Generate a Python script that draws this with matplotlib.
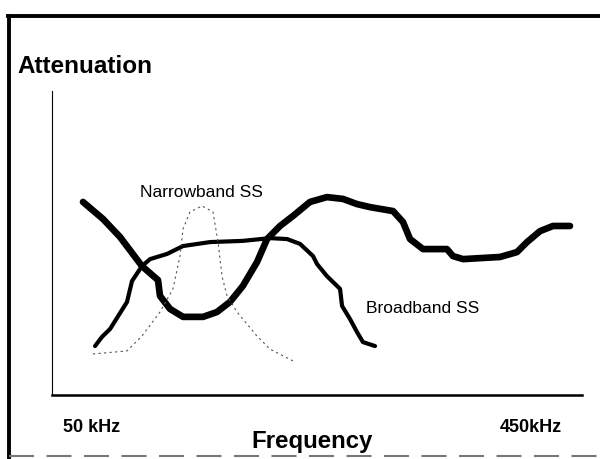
import matplotlib.pyplot as plt
from matplotlib.lines import Line2D

plt.rcParams['font.family'] = ['Liberation Sans', 'DejaVu Sans']

# frequency (kHz) and relative attenuation
thick_f = [73.4, 88.5, 101.3, 117.9, 130.0, 131.5, 139.1, 148.9, 164.0, 174.5, 184.3, 194.1,
           204.7, 212.3, 222.1, 231.9, 244.7, 257.5, 269.6, 280.2, 290.0, 307.4, 314.9, 320.2,
           330.0, 348.1, 352.6, 360.2, 388.1, 400.9, 408.5, 418.3, 428.1, 440.9]
thick_a = [63.5, 57.9, 52.0, 42.4, 37.8, 32.6, 28.3, 25.7, 25.7, 27.3, 30.6, 35.9,
           43.7, 51.3, 55.6, 58.9, 63.5, 65.1, 64.5, 62.8, 61.8, 60.5, 56.9, 51.3,
           48.0, 48.0, 45.7, 44.7, 45.4, 47.0, 50.3, 53.9, 55.6, 55.6]

broad_f = [82.5, 87.7, 93.8, 106.6, 110.4, 117.9, 124.0, 136.8, 148.9, 169.2, 194.1, 214.5,
           227.4, 237.2, 247.0, 250.0, 257.5, 267.4, 268.9, 274.9, 280.2, 284.7, 293.8]
broad_a = [16.1, 19.1, 21.7, 30.6, 37.5, 42.4, 44.7, 46.4, 49.0, 50.3, 50.7, 51.6,
           51.3, 49.7, 45.7, 43.1, 39.1, 34.9, 29.3, 25.0, 20.7, 17.4, 16.1]

narrow_f = [80.9, 106.6, 117.9, 131.5, 141.3, 146.6, 148.9, 154.1, 163.2, 171.5, 175.3, 178.3,
            182.1, 189.6, 204.7, 214.5, 231.9]
narrow_a = [13.5, 14.5, 19.4, 27.3, 34.9, 45.7, 54.6, 60.2, 62.2, 60.2, 50.3, 39.1,
            32.6, 27.3, 19.4, 15.1, 11.2]

fig = plt.figure(figsize=(6, 4.6), dpi=100)
ax = fig.add_axes([52/600, 64/460, 530/600, 304/460])

ax.plot(thick_f, thick_a, color='black', lw=4.8, solid_joinstyle='round', solid_capstyle='round')
ax.plot(broad_f, broad_a, color='black', lw=3.0, solid_joinstyle='round', solid_capstyle='round')
ax.plot(narrow_f, narrow_a, color='#555555', lw=0.8, linestyle=(0, (2, 3)))

ax.text(116.4, 65.5, "Narrowband SS", fontsize=12.5, va='baseline', ha='left')
ax.text(287.0, 27.3, "Broadband SS", fontsize=12.5, va='baseline', ha='left')

ax.set_xlim(50, 450)
ax.set_ylim(0, 100)
ax.set_xticks([])
ax.set_yticks([])
ax.spines["top"].set_visible(False)
ax.spines["right"].set_visible(False)
ax.spines["left"].set_linewidth(0.8)
ax.spines["bottom"].set_linewidth(1.8)

fig.text(17/600, 1 - 73/460, "Attenuation", fontsize=17.5, fontweight='bold', va='baseline', ha='left')
fig.text(63/600, 1 - 432/460, "50 kHz", fontsize=13, fontweight='bold', va='baseline', ha='left')
fig.text(562/600, 1 - 432/460, "450kHz", fontsize=13, fontweight='bold', va='baseline', ha='right')
fig.text(312/600, 1 - 448/460, "Frequency", fontsize=17.3, fontweight='bold', va='baseline', ha='center')

# scanned page frame
fig.add_artist(Line2D([8/600, 1], [1 - 17/460, 1 - 17/460], color='black', lw=2.8))
fig.add_artist(Line2D([9/600, 9/600], [0, 1 - 17/460], color='black', lw=2.8))
fig.add_artist(Line2D([9/600, 1], [3/460, 3/460], color='#777777', lw=1.5, linestyle=(0, (12, 6))))

fig.savefig("out.png", dpi=100)
